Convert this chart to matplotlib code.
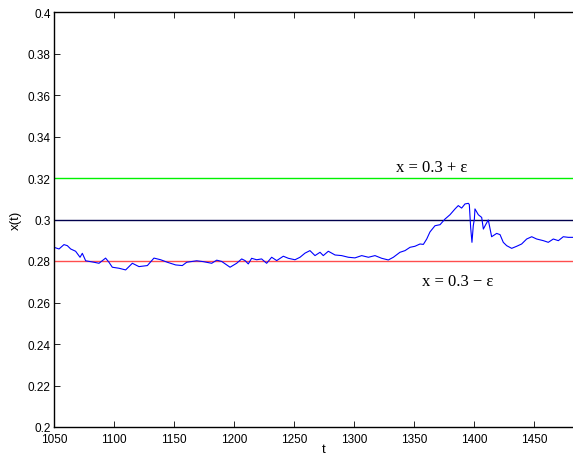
import matplotlib
matplotlib.use("Agg")
import matplotlib.pyplot as plt
from matplotlib.ticker import FixedLocator, FuncFormatter

# series
t = [1050, 1054.2, 1058.3, 1061.1, 1063.9, 1068, 1071.7, 1073.6, 1076.4, 1083.3,
     1087.5, 1093, 1095.8, 1098.6, 1104.2, 1109.7, 1115.3, 1120.8, 1127.8, 1133.3,
     1138.9, 1144.4, 1151.4, 1156.9, 1160.6, 1168.9, 1174.4, 1181.4, 1185.6, 1189.7,
     1196.7, 1202.2, 1206.4, 1209.2, 1211.9, 1214.7, 1218.9, 1223, 1227.2, 1231.4,
     1235.6, 1241.1, 1245.3, 1250.8, 1255, 1259.2, 1263.3, 1267.5, 1271.7, 1274.4,
     1278.6, 1284.2, 1289.7, 1295.3, 1300.8, 1306.4, 1312, 1317.5, 1323.1, 1328.6,
     1332.8, 1338.3, 1342.5, 1346.7, 1350.8, 1355, 1357.8, 1360.6, 1363.3, 1367.5,
     1371.7, 1375.8, 1380, 1384.2, 1386.9, 1389.7, 1392.5, 1395.3, 1396.1, 1397.2,
     1398.3, 1399.4, 1400.3, 1400.8, 1403.6, 1406.4, 1407.8, 1410, 1411.9, 1414.7,
     1418.9, 1421.7, 1424.4, 1427.2, 1431.4, 1435.6, 1439.7, 1443.9, 1448.1, 1452.2,
     1457.8, 1461.9, 1466.1, 1470.3, 1474.4, 1478.6, 1482.5]
x = [0.2866, 0.2858, 0.2879, 0.2874, 0.2858, 0.2847, 0.2818, 0.2837, 0.2801, 0.2794,
     0.2789, 0.2814, 0.2794, 0.2770, 0.2765, 0.2757, 0.2789, 0.2773, 0.2778, 0.2814,
     0.2806, 0.2794, 0.2781, 0.2778, 0.2794, 0.2801, 0.2797, 0.2789, 0.2804, 0.2798,
     0.2770, 0.2789, 0.2810, 0.2802, 0.2786, 0.2813, 0.2806, 0.2810, 0.2789, 0.2818,
     0.2802, 0.2823, 0.2813, 0.2806, 0.2818, 0.2838, 0.2850, 0.2826, 0.2842, 0.2826,
     0.2847, 0.2829, 0.2826, 0.2818, 0.2815, 0.2826, 0.2818, 0.2826, 0.2813, 0.2805,
     0.2818, 0.2842, 0.2850, 0.2866, 0.2871, 0.2882, 0.2880, 0.2906, 0.2940, 0.2970,
     0.2975, 0.3002, 0.3023, 0.3051, 0.3067, 0.3055, 0.3075, 0.3078, 0.3072, 0.2962,
     0.2890, 0.2970, 0.3002, 0.3051, 0.3023, 0.3010, 0.2954, 0.2978, 0.2998, 0.2917,
     0.2933, 0.2927, 0.2890, 0.2874, 0.2861, 0.2871, 0.2882, 0.2906, 0.2917, 0.2906,
     0.2898, 0.2890, 0.2906, 0.2898, 0.2917, 0.2914, 0.2914]

upper = 0.32
target = 0.3
lower = 0.28
x_ticks = [1050, 1100, 1150, 1200, 1250, 1300, 1350, 1400, 1450]
y_ticks = [0.2, 0.22, 0.24, 0.26, 0.28, 0.3, 0.32, 0.34, 0.36, 0.38, 0.4]

W, H = 573, 460
fig = plt.figure(figsize=(W / 100, H / 100), dpi=100)
# axes run past the right edge, like the cropped original
ax = fig.add_axes([54 / W, 32 / H, 540 / W, 415 / H])

ax.axhline(upper, color=(0, 0.95, 0), lw=1.0)
ax.axhline(target, color=(0, 0, 0.3), lw=1.0)
ax.axhline(lower, color=(1, 0.3, 0.3), lw=1.0)
ax.plot(t, x, color='b', lw=0.8)

ax.text(1365, 0.3253, 'x = 0.3 + \u03b5', ha='center', va='center',
        fontsize=12, family='Liberation Serif')
ax.text(1386, 0.2704, 'x = 0.3 \u2212 \u03b5', ha='center', va='center',
        fontsize=12, family='Liberation Serif')

ax.set_xlim(1050, 1500)
ax.set_ylim(0.2, 0.4)
ax.xaxis.set_major_locator(FixedLocator(x_ticks))
ax.yaxis.set_major_locator(FixedLocator(y_ticks))
ax.yaxis.set_major_formatter(FuncFormatter(lambda v, p: ('%g' % round(v, 2))))
ax.tick_params(direction='in', top=True, right=True, length=4, width=0.6,
               labelsize=8.5)
ax.tick_params(axis='x', pad=4)
ax.tick_params(axis='y', pad=2.5)
for lab in ax.get_xticklabels() + ax.get_yticklabels():
    lab.set_family('Liberation Sans')
for s in ax.spines.values():
    s.set_linewidth(1.0)

ax.set_xlabel('t', fontsize=9.5, family='Liberation Sans', labelpad=-1)
ax.set_ylabel('x(t)', fontsize=9.5, family='Liberation Sans', labelpad=4)

fig.savefig('out.png', dpi=100)
